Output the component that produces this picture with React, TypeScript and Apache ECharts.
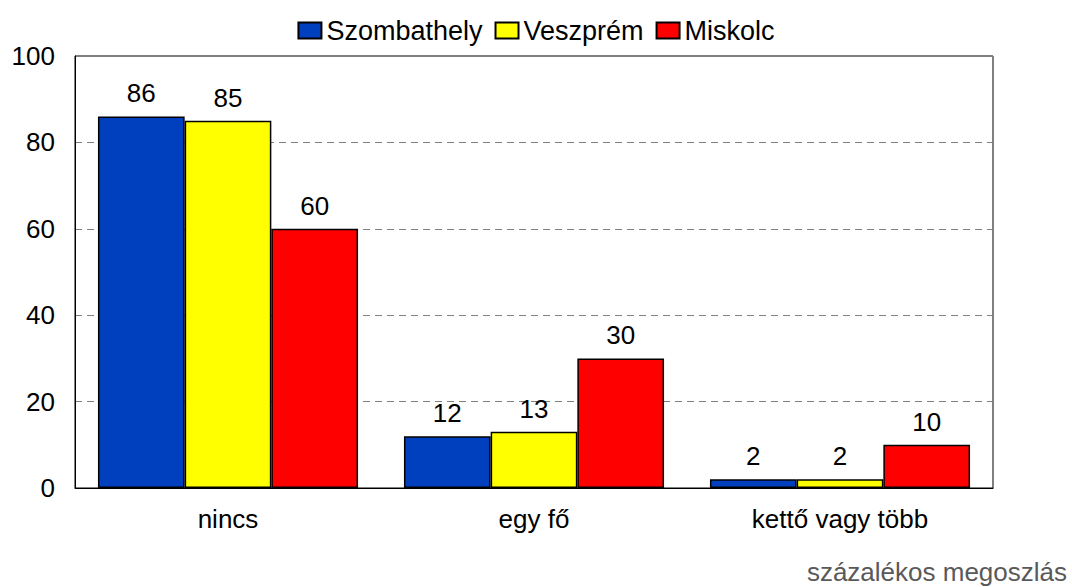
import React, { useEffect, useRef } from "react";
import * as echarts from "echarts";

const categories = ["nincs", "egy fő", "kettő vagy több"];
const seriesNames = ["Szombathely", "Veszprém", "Miskolc"];
const szombathely = [86, 12, 2];
const veszprem = [85, 13, 2];
const miskolc = [60, 30, 10];
const colors = ["#0040BF", "#FFFF00", "#FF0000"];
const yTicks = { min: 0, max: 100, interval: 20 };
const note = "százalékos megoszlás";

export default function App() {
  const ref = useRef<HTMLDivElement>(null);
  useEffect(() => {
    const chart = echarts.init(ref.current!, null, { renderer: "svg" });
    const font = "'Liberation Sans', Arial, sans-serif";
    const data = [szombathely, veszprem, miskolc];
    chart.setOption({
      animation: false,
      textStyle: { fontFamily: font },
      legend: {
        top: 12,
        left: "center",
        itemGap: 12,
        itemWidth: 23,
        itemHeight: 16,
        icon: "rect",
        textStyle: { fontSize: 27, color: "#000", fontFamily: font },
        data: seriesNames,
      },
      grid: {
        left: 75,
        right: 79,
        top: 56,
        bottom: 99,
        show: true,
        borderColor: "#000",
        borderWidth: 1,
        containLabel: false,
      },
      xAxis: {
        type: "category",
        data: categories,
        axisLine: { show: true, lineStyle: { color: "#000", width: 1 } },
        axisTick: { show: false },
        axisLabel: { fontSize: 26, color: "#000", margin: 18, fontFamily: font },
        splitLine: { show: false },
      },
      yAxis: {
        type: "value",
        min: yTicks.min,
        max: yTicks.max,
        interval: yTicks.interval,
        axisLine: { show: true, lineStyle: { color: "#000", width: 1 } },
        axisTick: { show: false },
        axisLabel: { fontSize: 26, color: "#000", margin: 20, fontFamily: font },
        splitLine: { show: true, lineStyle: { color: "#808080", type: [7, 5], width: 1 } },
      },
      series: seriesNames.map((name, i) => ({
        name,
        type: "bar",
        data: data[i],
        barGap: "0%",
        barCategoryGap: "15%",
        itemStyle: { color: colors[i], borderColor: "#000", borderWidth: 1.5 },
        label: {
          show: true,
          position: "top",
          distance: 10,
          fontSize: 26,
          color: "#000",
          fontFamily: font,
        },
      })),
      graphic: [
        {
          type: "text",
          right: 5,
          top: 559,
          style: { text: note, fill: "#595959", font: `26px ${font}` },
        },
      ],
    });
    return () => chart.dispose();
  }, []);
  return <div ref={ref} style={{ width: 1072, height: 587, position: "absolute", left: 0, top: 0 }} />;
}
